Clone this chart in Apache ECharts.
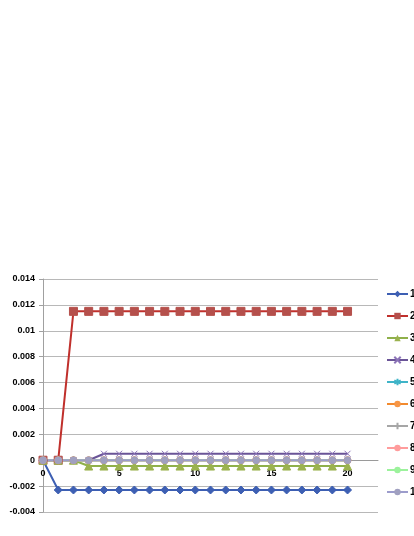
<!DOCTYPE html>
<html lang="en">
<head>
    <meta charset="utf-8">
    <script src="https://cdn.jsdelivr.net/npm/echarts@6/dist/echarts.min.js"></script>
    <style>
        html, body { margin: 0; padding: 0; background: #fff; }
        #chart { width: 414px; height: 536px; }
    </style>
</head>
<body>
    <div id="chart"></div>
    <script type="text/javascript">
        // x positions 0..20
        var xs = [0, 1, 2, 3, 4, 5, 6, 7, 8, 9, 10, 11, 12, 13, 14, 15, 16, 17, 18, 19, 20];
        var names = ['1', '2', '3', '4', '5', '6', '7', '8', '9', '10'];

        var s1 = [0, -0.0023, -0.0023, -0.0023, -0.0023, -0.0023, -0.0023, -0.0023, -0.0023, -0.0023, -0.0023, -0.0023, -0.0023, -0.0023, -0.0023, -0.0023, -0.0023, -0.0023, -0.0023, -0.0023, -0.0023];
        var s2 = [0, 0, 0.0115, 0.0115, 0.0115, 0.0115, 0.0115, 0.0115, 0.0115, 0.0115, 0.0115, 0.0115, 0.0115, 0.0115, 0.0115, 0.0115, 0.0115, 0.0115, 0.0115, 0.0115, 0.0115];
        var s3 = [0, 0, 0, -0.00045, -0.00045, -0.00045, -0.00045, -0.00045, -0.00045, -0.00045, -0.00045, -0.00045, -0.00045, -0.00045, -0.00045, -0.00045, -0.00045, -0.00045, -0.00045, -0.00045, -0.00045];
        var s4 = [0, 0, 0, 0, 0.0005, 0.0005, 0.0005, 0.0005, 0.0005, 0.0005, 0.0005, 0.0005, 0.0005, 0.0005, 0.0005, 0.0005, 0.0005, 0.0005, 0.0005, 0.0005, 0.0005];
        var s5 = [0, 0, 0, 0, 0, 0, 0, 0, 0, 0, 0, 0, 0, 0, 0, 0, 0, 0, 0, 0, 0];
        var s6 = [0, 0, 0, 0, 0, 0, 0, 0, 0, 0, 0, 0, 0, 0, 0, 0, 0, 0, 0, 0, 0];
        var s7 = [0, 0, 0, 0, 0, 0, 0, 0, 0, 0, 0, 0, 0, 0, 0, 0, 0, 0, 0, 0, 0];
        var s8 = [0, 0, 0, 0, 0, 0, 0, 0, 0, 0, 0, 0, 0, 0, 0, 0, 0, 0, 0, 0, 0];
        var s9 = [0, 0, 0, 0, 0, 0, 0, 0, 0, 0, 0, 0, 0, 0, 0, 0, 0, 0, 0, 0, 0];
        var s10 = [0, 0, 0, 0, 0, 0, 0, 0, 0, 0, 0, 0, 0, 0, 0, 0, 0, 0, 0, 0, 0];

        var allValues = [s1, s2, s3, s4, s5, s6, s7, s8, s9, s10];
        var colors = ['#3d5fb3', '#c0302c', '#8fb04a', '#6a5497', '#3fb4c8', '#f28a2e', '#a6a6a6', '#ff9c9c', '#9cf29c', '#9c9ccc'];
        var markerColors = ['#3d5fb3', '#b5504c', '#9bb24f', '#8c74b8', '#3fb4c8', '#f79646', '#a6a6a6', '#ff9c9c', '#9cf29c', '#a0a0c0'];
        var symbols = [
            'diamond', 'rect', 'triangle',
            'path://M0,0L10,10M10,0L0,10',
            'path://M5,0L5,10M0,2.5L10,7.5M10,2.5L0,7.5',
            'circle',
            'path://M5,0L5,10M0,5L10,5',
            'none', 'none', 'circle'
        ];
        var sizes = [8, 8, 8, 6, 6, 7, 6, 7, 7, 7];
        var strokeOnly = [false, false, false, true, true, false, true, false, false, false];

        var series = [];
        for (var i = 0; i < names.length; i++) {
            var pts = [];
            for (var j = 0; j < xs.length; j++) {
                pts.push([xs[j], allValues[i][j]]);
            }
            series.push({
                name: names[i],
                type: 'line',
                data: pts,
                symbol: symbols[i],
                symbolSize: sizes[i],
                showSymbol: symbols[i] != 'none',
                animation: false,
                lineStyle: { color: colors[i], width: 2 },
                itemStyle: strokeOnly[i]
                    ? { color: 'rgba(0,0,0,0)', borderColor: markerColors[i], borderWidth: 1 }
                    : { color: markerColors[i], borderColor: markerColors[i] }
            });
        }

        var myChart = echarts.init(document.getElementById('chart'));
        var option = {
            backgroundColor: '#fff',
            grid: { left: 43, right: 36, top: 279, bottom: 24 },
            legend: {
                orient: 'vertical',
                left: 386,
                top: 289,
                padding: 0,
                itemWidth: 21,
                itemHeight: 8,
                itemGap: 12,
                data: names,
                textStyle: { fontFamily: 'Liberation Sans', fontSize: 10, fontWeight: 'bold', color: '#000', padding: [0, 0, 0, -3] }
            },
            xAxis: {
                type: 'value',
                min: 0,
                max: 22,
                interval: 5,
                position: 'bottom',
                offset: -52,
                z: 0,
                axisLine: { onZero: false, lineStyle: { color: '#9a9a9a', width: 1 } },
                axisTick: { show: false },
                splitLine: { show: false },
                axisLabel: {
                    showMaxLabel: false,
                    margin: 9,
                    fontFamily: 'Liberation Sans', fontSize: 9, fontWeight: 'bold', color: '#000'
                }
            },
            yAxis: {
                type: 'value',
                min: -0.004,
                max: 0.014,
                interval: 0.002,
                axisLine: { show: true, lineStyle: { color: '#a0a0a0' } },
                axisTick: { show: true, length: 4, lineStyle: { color: '#a0a0a0' } },
                splitLine: { lineStyle: { color: '#b8b8b8', width: 1 } },
                axisLabel: {
                    margin: 8,
                    fontFamily: 'Liberation Sans', fontSize: 9, fontWeight: 'bold', color: '#000',
                    formatter: function (v) { return String(parseFloat(v.toFixed(3))); }
                }
            },
            series: series
        };
        myChart.setOption(option);
    </script>
</body>
</html>
